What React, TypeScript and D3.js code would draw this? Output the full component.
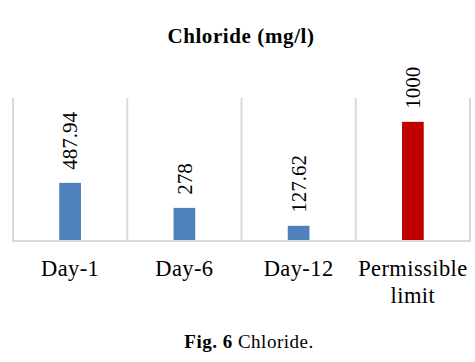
import React, { useRef, useEffect } from 'react';
import { select, scaleBand, scaleLinear } from 'd3';

const categories = ['Day-1', 'Day-6', 'Day-12', 'Permissible limit'];
const values = [487.94, 278, 127.62, 1000];
const valueLabels = ['487.94', '278', '127.62', '1000'];
const barColors = ['#4f81bd', '#4f81bd', '#4f81bd', '#c00000'];

const width = 475;
const height = 362;

export default function App() {
  const svgRef = useRef<SVGSVGElement>(null);

  useEffect(() => {
    const svg = select(svgRef.current);
    svg.selectAll('*').remove();

    const x = scaleBand<number>()
      .domain(categories.map((d, i) => i))
      .range([13, 470])
      .padding(0);

    const y = scaleLinear().domain([0, 1200]).range([241, 98]);

    // title
    svg
      .append('text')
      .attr('x', 241)
      .attr('y', 43)
      .attr('text-anchor', 'middle')
      .attr('font-weight', 'bold')
      .attr('font-size', 21)
      .attr('letter-spacing', 0.6)
      .text('Chloride (mg/l)');

    // vertical gridlines at category boundaries
    const bounds = categories.map((d, i) => x(i)!).concat([x.range()[1]]);
    svg
      .selectAll('.grid')
      .data(bounds)
      .join('line')
      .attr('class', 'grid')
      .attr('x1', (d) => d)
      .attr('x2', (d) => d)
      .attr('y1', y(1200))
      .attr('y2', y(0))
      .attr('stroke', '#d9d9d9')
      .attr('stroke-width', 2);

    const bw = x.bandwidth() * 0.19;

    svg
      .selectAll('.bar')
      .data(values)
      .join('rect')
      .attr('class', 'bar')
      .attr('x', (d, i) => x(i)! + x.bandwidth() / 2 - bw / 2)
      .attr('width', bw)
      .attr('y', (d) => y(d))
      .attr('height', (d) => y(0) - y(d))
      .attr('fill', (d, i) => barColors[i]);

    // baseline
    svg
      .append('line')
      .attr('x1', 12)
      .attr('x2', 471)
      .attr('y1', y(0))
      .attr('y2', y(0))
      .attr('stroke', '#d9d9d9')
      .attr('stroke-width', 2);

    // rotated value labels
    svg
      .selectAll('.val')
      .data(values)
      .join('text')
      .attr('class', 'val')
      .attr(
        'transform',
        (d, i) => `translate(${x(i)! + x.bandwidth() / 2},${y(d) - 13}) rotate(-90)`
      )
      .attr('dy', '0.35em')
      .attr('font-size', 21)
      .attr('fill', '#000')
      .text((d, i) => valueLabels[i]);

    // category labels
    const cat = svg
      .selectAll('.cat')
      .data(categories)
      .join('text')
      .attr('class', 'cat')
      .attr('text-anchor', 'middle')
      .attr('font-size', 22.5)
      .attr('letter-spacing', 0.4)
      .attr('fill', '#000');
    cat.each(function (d, i) {
      const words = d === 'Permissible limit' ? ['Permissible', 'limit'] : [d];
      const t = select(this);
      words.forEach((w, j) => {
        t.append('tspan')
          .attr('x', x(i)! + x.bandwidth() / 2)
          .attr('y', 276 + j * 27)
          .text(w);
      });
    });

    // caption
    const cap = svg
      .append('text')
      .attr('x', 249)
      .attr('y', 348)
      .attr('text-anchor', 'middle')
      .attr('font-size', 19)
      .attr('letter-spacing', 0.5);
    cap.append('tspan').attr('font-weight', 'bold').text('Fig. 6');
    cap.append('tspan').text(' Chloride.');
  }, []);

  return (
    <svg
      ref={svgRef}
      width={width}
      height={height}
      fontFamily="'Liberation Serif', 'Times New Roman', serif"
      style={{ position: 'absolute', left: 0, top: 0, background: '#fff' }}
    />
  );
}
